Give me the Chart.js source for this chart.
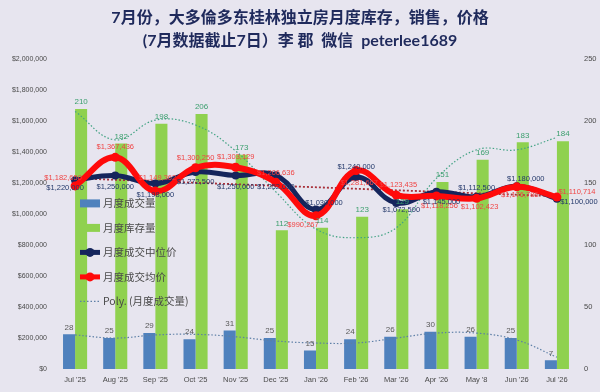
<!DOCTYPE html>
<html>
<head>
<meta charset="utf-8">
<script src="https://cdn.jsdelivr.net/npm/chart.js@4.4.0/dist/chart.umd.min.js"></script>
<style>
  html, body { margin: 0; padding: 0; background: #e7e5ef; }
  #wrap { width: 600px; height: 392px; }
</style>
</head>
<body>
<div id="wrap"><canvas id="GtaChart" width="600" height="392"></canvas></div>
<script>
  // Data
  const months        = ["Jul '25", "Aug '25", "Sep '25", "Oct '25", "Nov '25", "Dec '25", "Jan '26", "Feb '26", "Mar '26", "Apr '26", "May '8", "Jun '26", "Jul '26"];
  const salesVolume   = [28, 25, 29, 24, 31, 25, 15, 24, 26, 30, 26, 25, 7];
  const inventory     = [210, 182, 198, 206, 173, 112, 114, 123, 129, 151, 169, 183, 184];
  const medianPrice   = [1220000, 1250000, 1198000, 1272500, 1250000, 1252000, 1030000, 1240000, 1072500, 1145000, 1112500, 1180000, 1100000];
  const averagePrice  = [1182650, 1367436, 1149362, 1300250, 1303129, 1206636, 990267, 1281667, 1123435, 1118256, 1102423, 1176786, 1110714];
  const volumeTrend   = [27.5, 25, 27.5, 28, 26, 22.6, 21, 21, 25, 29, 29, 23.4, 9.5];
  const inventoryTrend = [208, 185, 201, 197, 176, 143, 113, 106, 114, 154, 177, 177, 187];
  const averageTrend  = [1232000, null, null, null, null, null, null, null, null, null, null, null, 1116000];
  const priceTicks    = [0, 200000, 400000, 600000, 800000, 1000000, 1200000, 1400000, 1600000, 1800000, 2000000];
  const countTicks    = [0, 50, 100, 150, 200, 250];

  // label nudges (px) for the two price lines
  const medianLabelOffset  = [[-10, 8], [0, 11], [0, 11], [0, 10], [0, 11], [0, 12], [8, -7], [0, -10], [5, 7], [5, 10], [0, -9], [9, -7], [22, 3]];
  const averageLabelOffset = [[-12, -8], [0, -10], [2, -13], [0, -10], [0, -10], [0, -9], [-13, 9], [3, 12], [2, -10], [3, 10], [3, 9], [3, 8], [20, -5]];

  // Colors
  const blue_bar     = '#4f81bd';
  const green_bar    = '#8fd14f';
  const navy_line    = '#15255c';
  const red_line     = '#ff0a0a';
  const axis_text    = '#4a4a4a';
  const tick_font    = '"Liberation Sans", sans-serif';

  const money = v => '$' + Math.round(v).toLocaleString('en-US');

  const legendItems = [
    { text: '月度成交量', kind: 'box', color: blue_bar },
    { text: '月度库存量', kind: 'box', color: green_bar },
    { text: '月度成交中位价', kind: 'dotline', color: navy_line },
    { text: '月度成交均价', kind: 'dotline', color: red_line },
    { text: 'Poly. (月度成交量)', kind: 'dotted', color: '#5d7fa6' }
  ];

  // value labels on bars and lines
  const valueLabels = {
    id: 'valueLabels',
    afterDatasetsDraw(chart) {
      const ctx = chart.ctx;
      ctx.save();
      ctx.textAlign = 'center';
      ctx.textBaseline = 'middle';
      chart.data.datasets.forEach((ds, i) => {
        if (!ds.labelColor) return;
        const meta = chart.getDatasetMeta(i);
        ctx.font = (ds.yAxisID === 'yPrice' ? '7.5px ' : '8px ') + tick_font;
        ctx.fillStyle = ds.labelColor;
        meta.data.forEach((el, j) => {
          const v = ds.data[j];
          if (v == null) return;
          const off = ds.labelOffset ? ds.labelOffset[j] : [0, -7];
          const txt = ds.yAxisID === 'yPrice' ? money(v) : String(v);
          ctx.fillText(txt, el.x + off[0], el.y + off[1]);
        });
      });
      ctx.restore();
    }
  };

  // legend sitting inside the plot, left side
  const insideLegend = {
    id: 'insideLegend',
    afterDraw(chart) {
      const ctx = chart.ctx;
      const area = chart.chartArea;
      const x0 = area.left + 25;
      ctx.save();
      ctx.textBaseline = 'middle';
      ctx.font = '10.5px "Noto Sans CJK SC", sans-serif';
      legendItems.forEach((item, k) => {
        const y = area.top + 144 + k * 24.5;
        if (item.kind === 'box') {
          ctx.fillStyle = item.color;
          ctx.fillRect(x0, y - 4, 20, 8);
        } else if (item.kind === 'dotline') {
          ctx.strokeStyle = item.color;
          ctx.lineWidth = 5;
          ctx.beginPath();
          ctx.moveTo(x0, y);
          ctx.lineTo(x0 + 20, y);
          ctx.stroke();
          ctx.fillStyle = item.color;
          ctx.beginPath();
          ctx.arc(x0 + 10, y, 4.5, 0, Math.PI * 2);
          ctx.fill();
        } else {
          ctx.strokeStyle = item.color;
          ctx.lineWidth = 1.2;
          ctx.setLineDash([1.5, 2]);
          ctx.beginPath();
          ctx.moveTo(x0, y);
          ctx.lineTo(x0 + 20, y);
          ctx.stroke();
          ctx.setLineDash([]);
        }
        ctx.fillStyle = axis_text;
        ctx.fillText(item.text, x0 + 23, y);
      });
      ctx.restore();
    }
  };

  const ctx = document.getElementById('GtaChart').getContext('2d');
  const GtaChart = new Chart(ctx, {
    type: 'bar',
    data: {
      labels: months,
      datasets: [
        {
          type: 'line',
          label: '月度成交均价',
          data: averagePrice,
          yAxisID: 'yPrice',
          borderColor: red_line,
          backgroundColor: red_line,
          borderWidth: 6,
          tension: 0.4,
          pointRadius: 4.5,
          pointBorderWidth: 0,
          labelColor: '#f04444',
          labelOffset: averageLabelOffset,
          order: 0
        },
        {
          type: 'line',
          label: '月度成交中位价',
          data: medianPrice,
          yAxisID: 'yPrice',
          borderColor: navy_line,
          backgroundColor: navy_line,
          borderWidth: 5,
          tension: 0.4,
          pointRadius: 4,
          pointBorderWidth: 0,
          labelColor: '#23386a',
          labelOffset: medianLabelOffset,
          order: 1
        },
        {
          type: 'line',
          label: 'Linear (月度成交均价)',
          data: averageTrend,
          yAxisID: 'yPrice',
          spanGaps: true,
          borderColor: '#a8303a',
          borderWidth: 1.8,
          borderDash: [2, 2],
          pointRadius: 0,
          order: 2
        },
        {
          type: 'line',
          label: 'Poly. (月度成交量)',
          data: volumeTrend,
          yAxisID: 'yCount',
          borderColor: '#5d7fa6',
          borderWidth: 1.2,
          borderDash: [1.5, 2],
          tension: 0.4,
          pointRadius: 0,
          order: 2
        },
        {
          type: 'line',
          label: 'Poly. (月度库存量)',
          data: inventoryTrend,
          yAxisID: 'yCount',
          borderColor: '#43a384',
          borderWidth: 1.2,
          borderDash: [1.5, 2],
          tension: 0.4,
          pointRadius: 0,
          order: 2
        },
        {
          label: '月度成交量',
          data: salesVolume,
          yAxisID: 'yCount',
          backgroundColor: blue_bar,
          categoryPercentage: 0.6,
          barPercentage: 1.0,
          labelColor: '#595959',
          order: 3
        },
        {
          label: '月度库存量',
          data: inventory,
          yAxisID: 'yCount',
          backgroundColor: green_bar,
          categoryPercentage: 0.6,
          barPercentage: 1.0,
          labelColor: '#3c9f6e',
          order: 3
        }
      ]
    },
    options: {
      responsive: false,
      animation: false,
      devicePixelRatio: 1,
      layout: {
        padding: { left: 0, right: 0, top: 0, bottom: 0 }
      },
      plugins: {
        legend: { display: false },
        tooltip: { enabled: false },
        title: {
          display: true,
          text: ['7月份，大多倫多东桂林独立房月度库存，销售，价格', '(7月数据截止7日）李 郡  微信  peterlee1689'],
          color: '#1f2a5c',
          font: { family: 'Lato, "Noto Sans CJK SC", sans-serif', size: 16, weight: 'bold', lineHeight: 1.45 },
          padding: { top: 6, bottom: 7 }
        }
      },
      scales: {
        x: {
          grid: { display: false, drawTicks: false },
          border: { display: false },
          ticks: { color: axis_text, font: { family: tick_font, size: 7.5 }, padding: 6, maxRotation: 0, autoSkip: false },
          afterFit: s => { s.height = 23; }
        },
        yPrice: {
          position: 'left',
          min: 0,
          max: 2000000,
          grid: { display: false, drawTicks: false },
          border: { display: false },
          afterBuildTicks: s => { s.ticks = priceTicks.map(v => ({ value: v })); },
          ticks: { color: axis_text, font: { family: tick_font, size: 7 }, padding: 8, callback: v => money(v) },
          afterFit: s => { s.width = 55; }
        },
        yCount: {
          position: 'right',
          min: 0,
          max: 250,
          grid: { display: false, drawTicks: false },
          border: { display: false },
          afterBuildTicks: s => { s.ticks = countTicks.map(v => ({ value: v })); },
          ticks: { color: axis_text, font: { family: tick_font, size: 7.5 }, padding: 7 },
          afterFit: s => { s.width = 23; }
        }
      }
    },
    plugins: [valueLabels, insideLegend]
  });
</script>
</body>
</html>
